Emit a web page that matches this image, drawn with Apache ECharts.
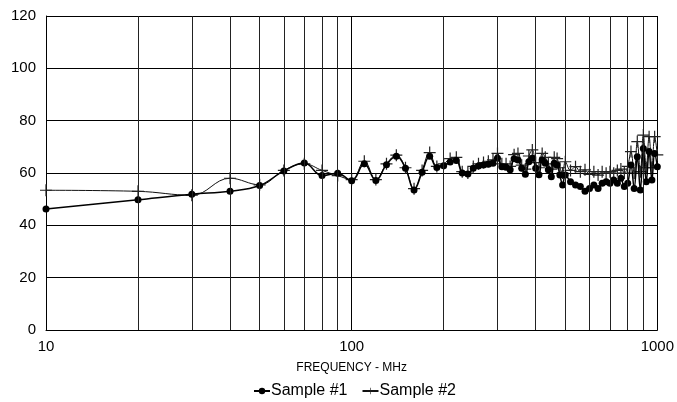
<!DOCTYPE html>
<html>
<head>
<meta charset="utf-8">
<script src="https://cdn.jsdelivr.net/npm/echarts@6/dist/echarts.min.js"></script>
<style>
html,body{margin:0;padding:0;background:#fff;}
#chart{width:677px;height:402px;}
</style>
</head>
<body>
<div id="chart"></div>
<script>
var freq = [10,20,30,40,50,60,70,80,90,100,110,120,130,140,150,160,170,180,190,200,
  210,220,230,240,250,260,270,280,290,300,310,320,330,340,350,360,370,380,390,400,
  410,420,430,440,450,460,470,480,490,500,520,540,560,580,600,620,640,660,680,700,
  720,740,760,780,800,820,840,860,880,900,920,940,960,980,1000];

var sample1 = [46.2,49.8,51.9,53.0,55.2,60.8,63.8,59.0,59.9,57.0,63.5,57.1,63.2,66.4,61.8,53.5,60.3,66.4,62.1,62.8,
  64.2,64.8,60.0,59.6,61.8,62.7,63.1,63.3,63.7,65.6,62.4,62.2,61.2,65.4,65.0,61.8,59.5,64.3,65.6,61.8,
  59.3,65.0,63.7,61.2,58.6,63.7,63.1,59.2,55.4,59.2,56.7,55.4,54.8,53.0,54.1,55.4,54.1,56.1,56.7,56.1,
  57.3,56.1,58.0,54.8,56.1,63.1,54.1,66.2,53.5,69.4,56.7,68.2,57.3,67.5,62.4];

var sample2 = [53.4,53.0,51.5,58.0,55.5,61.0,63.5,61.0,59.0,57.5,64.5,57.5,63.5,66.8,62.0,54.0,61.0,67.8,62.5,63.5,
  65.5,66.0,60.5,60.0,62.5,63.5,64.0,64.5,65.0,67.5,63.5,63.5,62.5,67.0,67.5,63.0,61.5,66.5,68.8,64.0,
  62.0,67.5,66.0,63.5,61.5,66.0,65.5,62.0,60.0,64.3,61.0,62.4,60.5,61.2,59.5,60.5,59.2,60.5,59.9,60.5,
  59.9,61.0,61.5,60.0,62.5,68.2,60.0,72.0,60.5,74.5,62.0,73.9,62.0,73.9,66.9];

var yTicks = [0,20,40,60,80,100,120];
var xGridLines = [20,30,40,50,60,70,80,90,200,300,400,500,600,700,800,900];

var FONT = '"Liberation Sans", Arial, Helvetica, sans-serif';
var PLUS = 'path://M4.5,0h1v4.5h4.5v1h-4.5v4.5h-1v-4.5h-4.5v-1h4.5z';

function pairs(xs, ys){ return xs.map(function(x,i){ return [x, ys[i]]; }); }

var chart = echarts.init(document.getElementById('chart'), null, {renderer:'canvas'});
chart.setOption({
  animation:false,
  backgroundColor:'#fff',
  textStyle:{fontFamily:FONT, color:'#000'},
  grid:{left:46, right:18, top:16, bottom:72, containLabel:false},
  legend:{
    top:378, left:248,
    itemWidth:16, itemHeight:8, itemGap:14,
    textStyle:{fontFamily:FONT, fontSize:16, color:'#000', padding:[0,0,0,-4]},
    data:['Sample #1','Sample #2']
  },
  xAxis:{
    type:'log', logBase:10, min:10, max:1000,
    name:'FREQUENCY - MHz', nameLocation:'middle', nameGap:32,
    nameTextStyle:{fontFamily:FONT, fontSize:12, color:'#000'},
    axisLine:{show:true, lineStyle:{color:'#000', width:1}},
    axisTick:{show:false},
    axisLabel:{fontFamily:FONT, fontSize:15, color:'#000', margin:9,
      formatter:function(v){ return String(Math.round(v)); }},
    splitLine:{show:true, lineStyle:{color:'#000', width:1}}
  },
  yAxis:{
    type:'value', min:yTicks[0], max:yTicks[yTicks.length-1], interval:20,
    axisLine:{show:true, lineStyle:{color:'#000', width:1}},
    axisTick:{show:false},
    axisLabel:{fontFamily:FONT, fontSize:15, color:'#000', margin:10},
    splitLine:{show:true, lineStyle:{color:'#000', width:1}}
  },
  series:[
    {
      name:'Sample #1', type:'line', smooth:0.4,
      data:pairs(freq, sample1),
      symbol:'circle', symbolSize:7,
      itemStyle:{color:'#000'},
      lineStyle:{color:'#000', width:1.5},
      z:4
    },
    {
      name:'Sample #2', type:'line', smooth:0.4,
      data:pairs(freq, sample2),
      symbol:PLUS, symbolSize:12,
      itemStyle:{color:'#222'},
      lineStyle:{color:'#111', width:1},
      z:3,
      markLine:{
        silent:true, symbol:'none', animation:false,
        label:{show:false},
        lineStyle:{color:'#222', width:1, type:'solid'},
        emphasis:{disabled:true},
        data:xGridLines.map(function(v){ return {xAxis:v}; })
      }
    }
  ]
});
</script>
</body>
</html>
